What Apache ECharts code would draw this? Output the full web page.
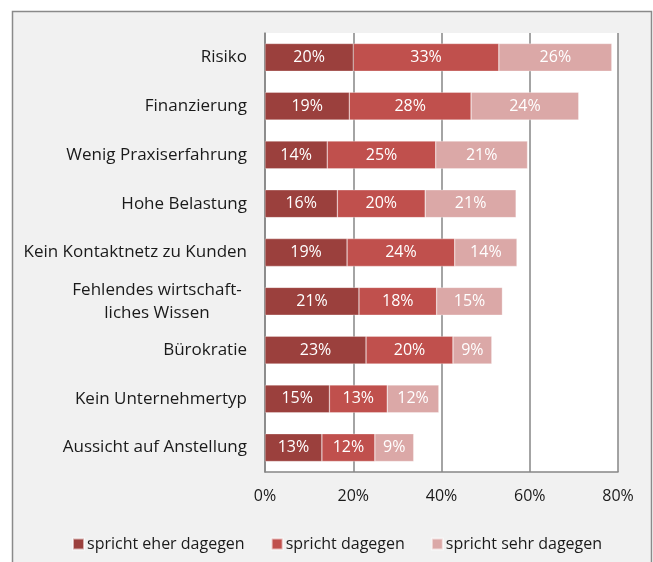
<!DOCTYPE html>
<html>
<head>
<meta charset="utf-8">
<script src="https://cdn.jsdelivr.net/npm/echarts@6/dist/echarts.min.js"></script>
<style>
  html, body { margin: 0; padding: 0; background: #fff; }
  #chart { width: 653px; height: 562px; }
</style>
</head>
<body>
<div id="chart"></div>
<script>
// categories, top to bottom
const categories = [
  "Risiko",
  "Finanzierung",
  "Wenig Praxiserfahrung",
  "Hohe Belastung",
  "Kein Kontaktnetz zu Kunden",
  "Fehlendes wirtschaft-\nliches Wissen",
  "Bürokratie",
  "Kein Unternehmertyp",
  "Aussicht auf Anstellung",
];

// shares in percent
const eherDagegen = [20.0, 19.1, 14.1, 16.4, 18.6, 21.3, 22.9, 14.6, 12.9];
const dagegen     = [33.0, 27.6, 24.6, 19.9, 24.4, 17.6, 19.7, 13.1, 12.0];
const sehrDagegen = [25.6, 24.4, 20.8, 20.6, 14.1, 14.9, 8.8, 11.7, 8.8];

const xTicks = [0, 20, 40, 60, 80];

const seriesNames = ["spricht eher dagegen", "spricht dagegen", "spricht sehr dagegen"];
const colors = ["#9b403d", "#c0504d", "#dba8a7"];

const font = "'Open Sans', sans-serif";

let chart = echarts.init(document.getElementById("chart"));

function barSeries(name, data, color) {
  return {
    name: name,
    type: "bar",
    stack: "total",
    data: data,
    barWidth: "57%",
    itemStyle: { color: color, borderColor: "rgba(255,255,255,0.6)", borderWidth: 0.5 },
    label: {
      show: true,
      position: "inside",
      color: "#fff",
      fontFamily: font,
      fontSize: 16,
      formatter: (p) => Math.round(p.value) + "%",
    },
  };
}

chart.setOption({
  backgroundColor: "#fff",
  animation: false,
  color: colors,
  graphic: [
    {
      type: "rect",
      z: -10,
      shape: { x: 12.5, y: 11.5, width: 639, height: 560 },
      style: { fill: "#f1f1f1", stroke: "#8a8a8a", lineWidth: 1.5 },
    },
  ],
  grid: {
    left: 265,
    right: 35,
    top: 33,
    bottom: 90,
    show: true,
    backgroundColor: "#fff",
    borderWidth: 0,
  },
  xAxis: {
    type: "value",
    min: xTicks[0],
    max: xTicks[xTicks.length - 1],
    interval: 20,
    axisLine: { show: true, lineStyle: { color: "#868686", width: 1.5 } },
    axisTick: { show: false },
    splitLine: { show: true, lineStyle: { color: "#868686", width: 1.5 } },
    axisLabel: {
      formatter: "{value}%",
      color: "#1a1a1a",
      fontFamily: font,
      fontSize: 16,
      margin: 16,
    },
  },
  yAxis: {
    type: "category",
    inverse: true,
    data: categories,
    axisLine: { show: true, lineStyle: { color: "#868686", width: 1.5 } },
    axisTick: { show: false },
    axisLabel: {
      color: "#1a1a1a",
      fontFamily: font,
      fontSize: 17,
      margin: 18,
      formatter: (v) =>
        v.indexOf("\n") >= 0
          ? v.split("\n").map((s) => "{c|" + s + "}").join("\n")
          : v,
      rich: {
        c: { width: 180, align: "center", fontFamily: font, fontSize: 17, color: "#1a1a1a", lineHeight: 23 },
      },
    },
  },
  legend: {
    bottom: 5,
    left: 67,
    itemWidth: 11,
    itemHeight: 11,
    itemGap: 26,
    icon: "rect",
    textStyle: { color: "#1a1a1a", fontFamily: font, fontSize: 16, padding: [0, 0, 0, -2] },
    data: seriesNames,
  },
  series: [
    barSeries(seriesNames[0], eherDagegen, colors[0]),
    barSeries(seriesNames[1], dagegen, colors[1]),
    barSeries(seriesNames[2], sehrDagegen, colors[2]),
  ],
});

window.addEventListener("resize", () => {
  if (chart) {
    chart.resize();
  }
});
</script>
</body>
</html>
